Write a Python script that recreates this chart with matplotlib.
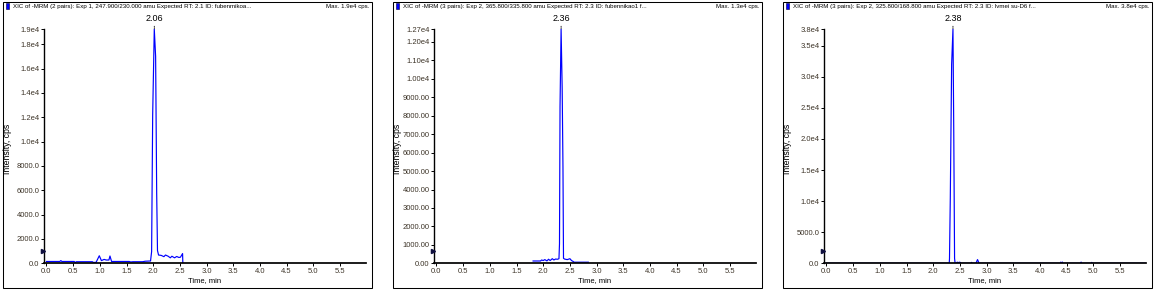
import matplotlib
matplotlib.use("Agg")
import matplotlib.pyplot as plt
from matplotlib.patches import Rectangle

plt.rcParams['font.family'] = ['Liberation Sans', 'DejaVu Sans']

# --- data ---

x_ticks = [0.0, 0.5, 1.0, 1.5, 2.0, 2.5, 3.0, 3.5, 4.0, 4.5, 5.0, 5.5]
x_tick_labels = ["0.0", "0.5", "1.0", "1.5", "2.0", "2.5", "3.0", "3.5", "4.0", "4.5", "5.0", "5.5"]

p1_title = "XIC of -MRM (2 pairs): Exp 1, 247.900/230.000 amu Expected RT: 2.1 ID: fubenmikoa..."
p1_max = "Max. 1.9e4 cps."
p1_peak = "2.06"
p1_threshold = 1010
p1_ymax = 19250
p1_yticks = [0, 2000, 4000, 6000, 8000, 10000, 12000, 14000, 16000, 18000, 19250]
p1_ytick_labels = ["0.0", "2000.0", "4000.0", "6000.0", "8000.0", "1.0e4", "1.2e4",
                   "1.4e4", "1.6e4", "1.8e4", "1.9e4"]
p1_time = [0.0, 0.25, 0.27, 0.29, 0.52, 0.54, 0.56, 0.86, 0.88, 0.93, 0.99, 1.03, 1.08,
           1.12, 1.17, 1.19, 1.22, 1.55, 1.58, 1.62, 1.80, 1.85, 1.95, 1.97, 1.99, 2.02,
           2.045, 2.065, 2.08, 2.10, 2.15, 2.20, 2.23, 2.28, 2.32, 2.35, 2.40, 2.44, 2.48,
           2.51, 2.55, 2.555]
p1_intensity = [150, 150, 220, 150, 150, 60, 130, 130, 70, 80, 620, 220, 320,
                270, 270, 600, 150, 150, 110, 130, 130, 170, 190, 955, 12200, 19250,
                17000, 5760, 1050, 680, 650, 545, 680, 580, 450, 580, 450, 560, 480,
                500, 800, 0]

p2_title = "XIC of -MRM (3 pairs): Exp 2, 365.800/335.800 amu Expected RT: 2.3 ID: fubennikao1 f..."
p2_max = "Max. 1.3e4 cps."
p2_peak = "2.36"
p2_threshold = 667
p2_ymax = 12700
p2_yticks = [0, 1000, 2000, 3000, 4000, 5000, 6000, 7000, 8000, 9000, 10000, 11000, 12000, 12700]
p2_ytick_labels = ["0.00", "1000.00", "2000.00", "3000.00", "4000.00", "5000.00", "6000.00",
                   "7000.00", "8000.00", "9000.00", "1.00e4", "1.10e4", "1.20e4", "1.27e4"]
p2_time = [1.81, 1.95, 1.97, 2.00, 2.03, 2.07, 2.10, 2.13, 2.17, 2.20, 2.23, 2.27, 2.295,
           2.305, 2.315, 2.335, 2.355, 2.37, 2.38, 2.40, 2.45, 2.50, 2.53, 2.56, 2.58, 2.845]
p2_intensity = [125, 125, 180, 150, 200, 130, 220, 150, 250, 180, 230, 220, 250,
                1060, 8500, 12700, 9500, 5200, 270, 230, 200, 250, 150, 100, 60, 60]

p3_title = "XIC of -MRM (3 pairs): Exp 2, 325.800/168.800 amu Expected RT: 2.3 ID: lvmei su-D6 f..."
p3_max = "Max. 3.8e4 cps."
p3_peak = "2.38"
p3_threshold = 1980
p3_ymax = 37680
p3_yticks = [0, 5000, 10000, 15000, 20000, 25000, 30000, 35000, 37680]
p3_ytick_labels = ["0.0", "5000.0", "1.0e4", "1.5e4", "2.0e4", "2.5e4", "3.0e4", "3.5e4", "3.8e4"]
p3_time = [0.0, 2.30, 2.305, 2.32, 2.345, 2.37, 2.385, 2.40, 2.41, 2.44, 2.45, 2.46, 2.48,
           2.50, 2.52, 2.70, 2.72, 2.73, 2.80, 2.83, 2.86, 4.38, 4.39, 4.40, 4.42, 4.43,
           4.76, 4.77, 4.78, 4.96, 4.97, 4.98, 5.98]
p3_intensity = [0, 0, 760, 10500, 32000, 37680, 21000, 800, 0, 0, 200, 0, 150,
                180, 0, 0, 150, 0, 0, 600, 0, 0, 200, 0, 200, 0,
                0, 200, 0, 0, 150, 0, 0]

W, H = 1157, 291
TICK_COLOUR = '#3d3428'


def fx(px):
    return px / W


def fy(py):
    return 1 - py / H


def draw_panel(fig, ox, title, max_text, peak_label, threshold, ymax, yticks, ytick_labels, t, y):
    # frame and title bar
    fig.patches.append(Rectangle((fx(ox + 2.5), fy(287.5)), (369.5) / W, (286) / H,
                                 transform=fig.transFigure, fill=False, lw=0.75, ec='black'))
    fig.patches.append(Rectangle((fx(ox + 6), fy(9.3)), 3.3 / W, 6.3 / H,
                                 transform=fig.transFigure, fc='#0000ff', ec='#000040', lw=0.4))
    fig.text(fx(ox + 13), fy(6.3), title, fontsize=4.4, ha='left', va='center')
    fig.text(fx(ox + 370), fy(6.3), max_text, fontsize=4.4, ha='right', va='center')

    ax = fig.add_axes([fx(ox + 44.3), fy(263.3), (365.7 - 44.3) / W, (263.3 - 29) / H])
    ax.plot(t, y, color='#0000ff', lw=0.85, zorder=1.5)
    ax.set_xlim(-0.04, 5.98)
    ax.set_ylim(0, ymax)

    ax.set_xticks(x_ticks)
    ax.set_xticklabels(x_tick_labels)
    ax.set_yticks(yticks)
    ax.set_yticklabels(ytick_labels)
    ax.tick_params(labelsize=5.5, length=2.2, width=0.7, pad=1.2, colors='black',
                   labelcolor=TICK_COLOUR)
    for side in ['top', 'right']:
        ax.spines[side].set_visible(False)
    ax.spines['left'].set_linewidth(1.0)
    # thicker bottom line hides the zero baseline, as in the instrument export
    ax.spines['bottom'].set_linewidth(1.25)

    # threshold marker on the y axis
    ax.plot(-0.055, threshold, marker='>', ms=3, color='#101040', clip_on=False, zorder=5)

    # apex label
    i_peak = max(range(len(y)), key=lambda i: y[i])
    ax.annotate(peak_label, xy=(t[i_peak], ymax), xytext=(0, 4.0), textcoords='offset points',
                ha='center', va='bottom', fontsize=6.5,
                arrowprops=dict(arrowstyle='-', lw=0.6, linestyle=(0, (1, 1)),
                                shrinkA=0, shrinkB=0, color='black'))

    fig.text(fx(ox + 8), fy(149), 'Intensity, cps', rotation=90, fontsize=6.3,
             ha='center', va='center')
    fig.text(fx(ox + 205), fy(281), 'Time, min', fontsize=5.5, ha='center', va='center')
    return ax


fig = plt.figure(figsize=(W / 100, H / 100), dpi=100)
fig.patch.set_facecolor('white')

draw_panel(fig, 0, p1_title, p1_max, p1_peak, p1_threshold, p1_ymax,
           p1_yticks, p1_ytick_labels, p1_time, p1_intensity)
draw_panel(fig, 390, p2_title, p2_max, p2_peak, p2_threshold, p2_ymax,
           p2_yticks, p2_ytick_labels, p2_time, p2_intensity)
draw_panel(fig, 780, p3_title, p3_max, p3_peak, p3_threshold, p3_ymax,
           p3_yticks, p3_ytick_labels, p3_time, p3_intensity)

fig.savefig('out.png', dpi=100)
